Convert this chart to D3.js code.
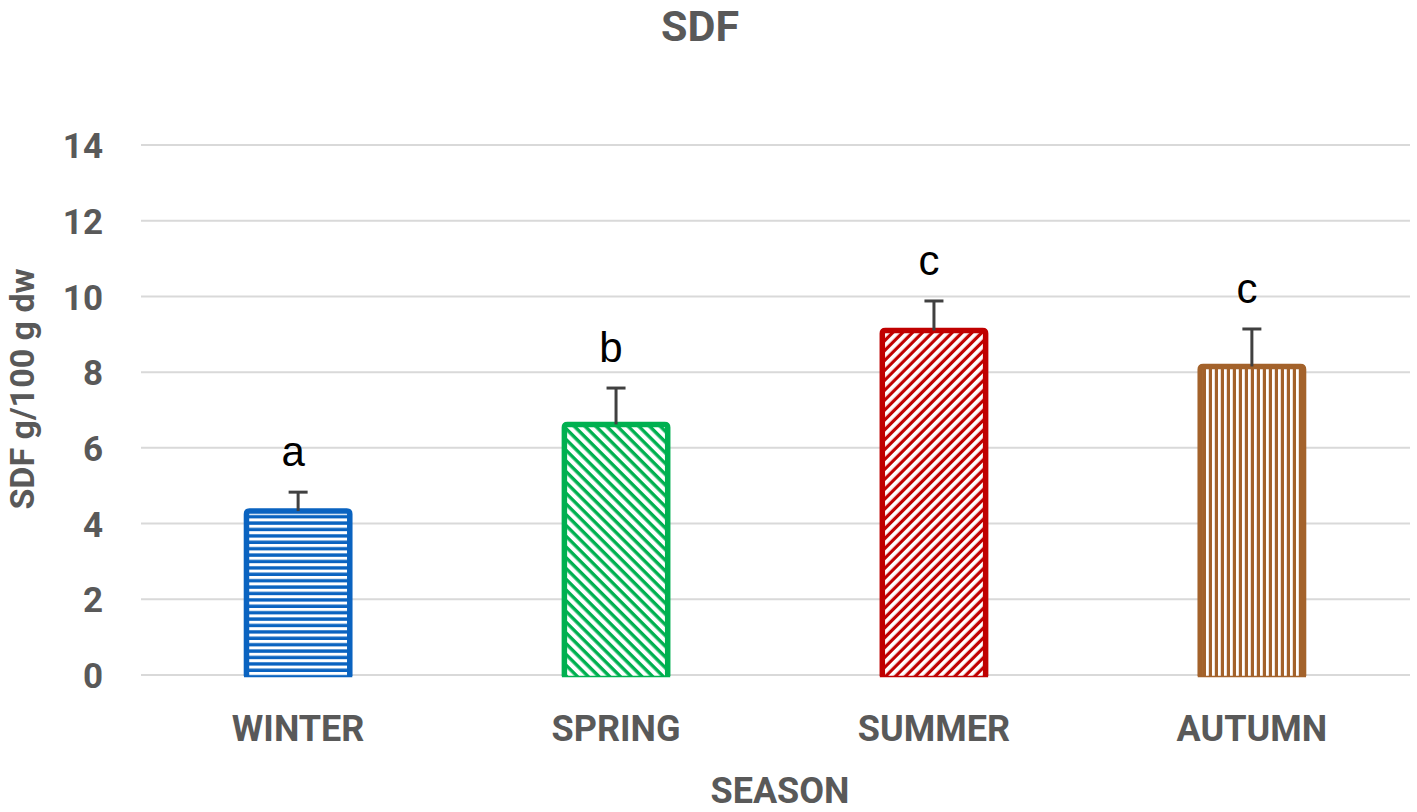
<!DOCTYPE html>
<html>
<head>
<meta charset="utf-8">
<script src="https://cdn.jsdelivr.net/npm/d3@7/dist/d3.min.js"></script>
<style>
  html, body { margin: 0; padding: 0; background: #fff; }
  svg { display: block; }
</style>
</head>
<body>
<svg id="chart" width="1417" height="812"></svg>
<script>
// ---- data ----
const categories = ["WINTER", "SPRING", "SUMMER", "AUTUMN"];
const values = [4.33, 6.62, 9.10, 8.15];
const errors = [0.50, 0.96, 0.78, 0.99];
const letters = ["a", "b", "c", "c"];
const yTicks = [0, 2, 4, 6, 8, 10, 12, 14];
const colors = ["#0a63c0", "#00b050", "#c00000", "#a3622b"];
const title = "SDF";
const xTitle = "SEASON";
const yTitle = "SDF g/100 g dw";

const svg = d3.select("#chart");
const textColor = "#595959";
const axisFont = "Roboto, 'Liberation Sans', Arial, sans-serif";

const x = d3.scaleBand().domain(categories).range([139, 1411]).paddingInner(0.675).paddingOuter(0.338);
const y = d3.scaleLinear().domain([0, 14]).range([675, 145]);

// ---- patterns ----
const defs = svg.append("defs");
function stripePattern(id, color, period, white, rotate) {
  const p = defs.append("pattern")
    .attr("id", id)
    .attr("patternUnits", "userSpaceOnUse")
    .attr("width", period).attr("height", period);
  if (rotate !== null) p.attr("patternTransform", `rotate(${rotate})`);
  p.append("rect").attr("width", period).attr("height", period).attr("fill", color);
  p.append("rect").attr("x", 0).attr("width", white).attr("height", period).attr("fill", "#fff");
  return p;
}
// winter: horizontal lines
stripePattern("pat0", colors[0], 6.4, 3.0, 90);
// spring: "\" diagonal
stripePattern("pat1", colors[1], 7.6, 4.2, -45);
// summer: "/" diagonal
stripePattern("pat2", colors[2], 7.0, 3.8, 45);
// autumn: vertical lines
stripePattern("pat3", colors[3], 6.0, 2.8, null);

// ---- gridlines ----
svg.append("g").selectAll("line")
  .data(yTicks)
  .join("line")
  .attr("x1", 141).attr("x2", 1410)
  .attr("y1", d => y(d)).attr("y2", d => y(d))
  .attr("stroke", "#d9d9d9").attr("stroke-width", 2);

// ---- y axis labels ----
const yAxis = d3.axisLeft(y).tickValues(yTicks).tickSize(0).tickPadding(0).tickFormat(d3.format("d"));
const yg = svg.append("g").attr("transform", "translate(103,0)").call(yAxis);
yg.select(".domain").remove();
yg.selectAll("text")
  .attr("font-family", axisFont).attr("font-weight", "bold")
  .attr("font-size", 35).attr("fill", textColor).attr("dy", "0.36em");

// ---- x axis labels ----
const xAxis = d3.axisBottom(x).tickSize(0).tickPadding(0);
const xg = svg.append("g").attr("transform", "translate(0,741)").call(xAxis);
xg.select(".domain").remove();
xg.selectAll("text")
  .attr("font-family", axisFont).attr("font-weight", "bold")
  .attr("font-size", 36).attr("fill", textColor).attr("dy", 0);

// ---- bars ----
const bars = svg.append("g");
categories.forEach((c, i) => {
  const x0 = x(c), w = x.bandwidth();
  const top = y(values[i]), base = y(0);
  bars.append("rect")
    .attr("x", x0).attr("y", top)
    .attr("width", w).attr("height", base - top + 1)
    .attr("fill", `url(#pat${i})`);
  const r = 3;
  bars.append("path")
    .attr("d", `M${x0},${base + 1} L${x0},${top + r} Q${x0},${top} ${x0 + r},${top} L${x0 + w - r},${top} Q${x0 + w},${top} ${x0 + w},${top + r} L${x0 + w},${base + 1}`)
    .attr("fill", "none").attr("stroke", colors[i]).attr("stroke-width", 5.5);
  bars.append("line")
    .attr("x1", x0 - 2.5).attr("x2", x0 + w + 2.5)
    .attr("y1", base + 1.5).attr("y2", base + 1.5)
    .attr("stroke", colors[i]).attr("stroke-width", 1.5);
});

// ---- error bars ----
const eb = svg.append("g").attr("stroke", "#404040").attr("stroke-width", 3);
categories.forEach((c, i) => {
  const cx = x(c) + x.bandwidth() / 2;
  const yt = y(values[i] + errors[i]);
  eb.append("line").attr("x1", cx).attr("x2", cx).attr("y1", y(values[i])).attr("y2", yt);
  eb.append("line").attr("x1", cx - 9.5).attr("x2", cx + 9.5).attr("y1", yt).attr("y2", yt);
});

// ---- significance letters ----
svg.append("g").selectAll("text")
  .data(categories)
  .join("text")
  .attr("x", (d, i) => x(d) + x.bandwidth() / 2 - 5)
  .attr("y", (d, i) => y(values[i] + errors[i]) - 26)
  .attr("text-anchor", "middle")
  .attr("font-family", "'Liberation Sans', Arial, sans-serif")
  .attr("font-size", 42).attr("fill", "#000")
  .text((d, i) => letters[i]);

// ---- titles ----
svg.append("text")
  .attr("x", 700).attr("y", 41)
  .attr("text-anchor", "middle")
  .attr("font-family", axisFont).attr("font-weight", "bold")
  .attr("font-size", 43).attr("fill", textColor)
  .text(title);

svg.append("text")
  .attr("x", 780).attr("y", 803)
  .attr("text-anchor", "middle")
  .attr("font-family", axisFont).attr("font-weight", "bold")
  .attr("font-size", 36).attr("fill", textColor)
  .text(xTitle);

svg.append("text")
  .attr("transform", "translate(34,389) rotate(-90)")
  .attr("text-anchor", "middle")
  .attr("font-family", axisFont).attr("font-weight", "bold")
  .attr("font-size", 34).attr("fill", textColor)
  .text(yTitle);
</script>
</body>
</html>
